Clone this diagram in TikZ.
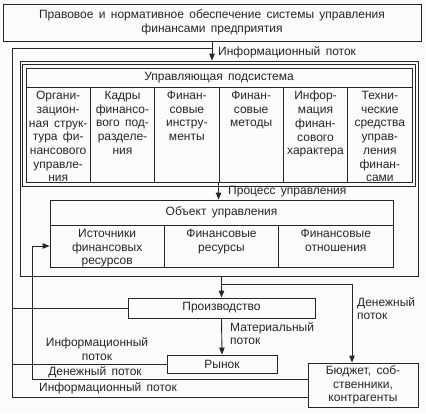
\documentclass[tikz,border=0pt]{standalone}
\usepackage{fontspec}
\setmainfont[WordSpace=1.6]{Liberation Sans}
\usetikzlibrary{arrows.meta}
\definecolor{ink}{HTML}{262626}
\definecolor{paper}{HTML}{FBFBFA}

\begin{document}
\begin{tikzpicture}[x=1pt, y=-1pt, ink,
      every node/.style={font=\fontsize{12}{13.7}\selectfont, inner sep=0pt},
      box/.style={draw=ink, line width=0.9pt},
      flow/.style={draw=ink, line width=0.9pt},
      arr/.style={flow, -{Triangle[length=7pt, width=5.5pt]}}]
    \fill[paper] (0,0) rectangle (426,413);
    \useasboundingbox (0,0) rectangle (426,413);
    % legal basis
    \node[box, minimum width=418, minimum height=37, align=center] (law) at (212,22.5)
      {Правовое и нормативное обеспечение системы управления\\финансами предприятия};
    % whole management system
    \node[box, minimum width=398, minimum height=215] (sys) at (219,168.5) {};
    \node[box, minimum width=393, minimum height=122] (ctrlOut) at (219,125.5) {};
    \node[box, minimum width=386, minimum height=19] (ctrl) at (219,77.5) {Управляющая подсистема};
    \foreach \i/\lab in {0/{Органи-\\зацион-\\ная струк-\\тура фи-\\нансового\\управле-\\ния},
        1/{Кадры\\финансо-\\вого под-\\разделе-\\ния}, 2/{Финан-\\совые\\инстру-\\менты},
        3/{Финан-\\совые\\методы}, 4/{Инфор-\\мация\\финан-\\сового\\характера},
        5/{Техни-\\ческие\\средства\\управ-\\ления\\финан-\\сами}} {
      \node[box, minimum width=64.33, minimum height=95.5] (u\i) at (58.17+64.33*\i,134.75) {};
      \node[anchor=north, align=center] at ([yshift=-4.5]u\i.north) {\lab};
    }
    \node[box, minimum width=343, minimum height=25] (obj) at (221.5,212.5) {Объект управления};
    \foreach \j/\lab in {0/{Источники\\финансовых\\ресурсов}, 1/{Финансовые\\ресурсы},
        2/{Финансовые\\отношения}} {
      \node[box, minimum width=114.33, minimum height=42] (o\j) at (107.17+114.33*\j,246) {};
      \node[anchor=north, align=center] at ([yshift=-4.5]o\j.north) {\lab};
    }
    % production and market
    \node[box, minimum width=187, minimum height=20] (prod) at (221.5,308) {Производство};
    \node[box, minimum width=110, minimum height=18] (market) at (222,364) {Рынок};
    \node[box, minimum width=110, minimum height=44, align=center] (budget) at (363,385)
      {Бюджет, соб-\\ственники,\\контрагенты};
    % flows
    \coordinate (infoTop) at (212,48);
    \coordinate (outTL) at (12,48);
    \coordinate (outBL) at (12,397);
    \coordinate (split) at (221.5,284);
    \coordinate (turn) at (352,284);
    \coordinate (fb) at (32,379);
    \draw[arr] (law.south -| infoTop) -- (sys.north -| infoTop);
    \draw[flow] (infoTop) -- (outTL) -- (outBL) -- (outBL -| budget.west);
    \draw[arr] (u3.south west) -- (u3.south west |- obj.north);
    \draw[arr] (sys.south -| prod.north) -- (prod.north);
    \draw[arr] (split) -- (turn) -- (turn |- budget.north);
    \draw[arr] (prod.south) -- (market.north);
    \draw[flow] (outTL |- prod.west) -- (prod.west);
    \draw[flow] (outTL |- market.west) -- (market.west);
    \draw[arr] (budget.west |- fb) -- (fb) -- (fb |- o0.west) -- (o0.west);
    % labels
    \node[anchor=west] (lInfo) at (218,52) {Информационный поток};
    \node[anchor=west] (lProc) at (228,192) {Процесс управления};
    \node[anchor=north west, align=left] (lMoney) at (357,297) {Денежный\\поток};
    \node[anchor=north west, align=left] (lMat) at (230,322) {Материальный\\поток};
    \node[align=center] (lInfo2) at (97,349) {Информационный\\поток};
    \node (lMoney2) at (95,372) {Денежный поток};
    \node (lInfo3) at (108,388) {Информационный поток};
  \end{tikzpicture}
\end{document}
